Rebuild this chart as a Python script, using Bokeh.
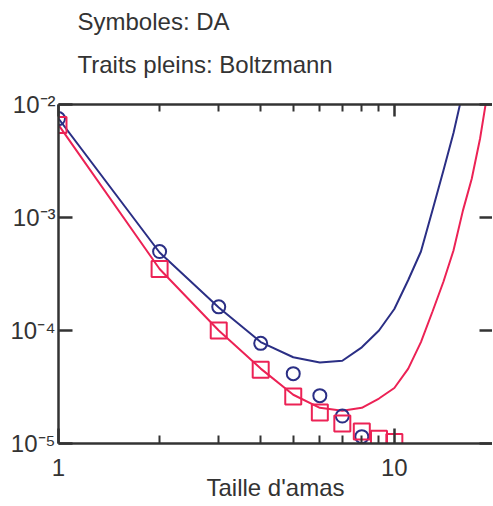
from bokeh.plotting import figure
from bokeh.models import LogAxis, FixedTicker, Range1d, Title
from bokeh.embed import file_html
from bokeh.resources import INLINE

# ---- data ----
x_da_circ = [1, 2, 3, 4, 5, 6, 7, 8]
y_da_circ = [7.5e-3, 5.0e-4, 1.62e-4, 7.7e-5, 4.15e-5, 2.65e-5, 1.75e-5, 1.15e-5]

x_da_sq = [1, 2, 3, 4, 5, 6, 7, 8, 9, 10]
y_da_sq = [6.6e-3, 3.5e-4, 1.0e-4, 4.5e-5, 2.6e-5, 1.88e-5, 1.5e-5, 1.28e-5, 1.1e-5, 1.03e-5]

x_blue = [1, 2, 3, 4, 5, 6, 7, 8, 9, 10, 11, 12, 13, 14, 15, 16]
y_blue = [7.5e-3, 4.9e-4, 1.6e-4, 7.9e-5, 5.8e-5, 5.2e-5, 5.4e-5, 7.1e-5, 1.0e-4,
          1.55e-4, 2.8e-4, 5.0e-4, 1.17e-3, 2.6e-3, 5.6e-3, 1.3e-2]

x_red = [1, 2, 3, 4, 5, 6, 7, 8, 9, 10, 11, 12, 13, 14, 15, 16, 17, 18, 19]
y_red = [6.6e-3, 3.5e-4, 1.0e-4, 4.6e-5, 2.7e-5, 2.07e-5, 1.95e-5, 2.07e-5, 2.5e-5,
         3.1e-5, 4.6e-5, 7.9e-5, 1.48e-4, 2.7e-4, 5.1e-4, 1.15e-3, 2.2e-3, 5.0e-3, 1.35e-2]

y_ticks = [1e-5, 1e-4, 1e-3, 1e-2]
y_tick_labels = ["10\u207b\u2075", "10\u207b\u2074", "10\u207b\u00b3", "10\u207b\u00b2"]
x_major = [1, 10]
x_minor = [2, 3, 4, 5, 6, 7, 8, 9]

title_lines = ["Symboles: DA", "Traits pleins: Boltzmann"]
x_label = "Taille d'amas"

BLUE = "#2b2f85"
RED = "#ec2255"
INK = "#333333"
FONT = "Liberation Sans"

p = figure(x_axis_type="log", y_axis_type="log",
           x_range=Range1d(1, 19.6), y_range=Range1d(1e-5, 1e-2),
           frame_width=434, frame_height=339,
           min_border_left=58, min_border_top=104, min_border_right=0, min_border_bottom=0,
           output_backend="svg", toolbar_location=None)
p.grid.visible = False
p.outline_line_color = None
p.background_fill_color = "white"
p.border_fill_color = "white"

def style_axis(ax, major_in, minor_in, show_labels, line=True):
    ax.axis_line_color = INK if line else None
    ax.axis_line_width = 2.5
    ax.major_tick_line_color = INK
    ax.major_tick_line_width = 2.5
    ax.major_tick_in = major_in
    ax.major_tick_out = 0
    if minor_in:
        ax.minor_tick_line_color = INK
        ax.minor_tick_line_width = 2
        ax.minor_tick_in = minor_in
        ax.minor_tick_out = 0
    else:
        ax.minor_tick_line_color = None
    ax.major_label_text_font = FONT
    ax.major_label_text_color = INK
    ax.major_label_text_font_size = "24px" if show_labels else "0px"
    if not show_labels:
        ax.major_label_text_color = None
        ax.major_label_standoff = 0

# bottom axis
xb = p.xaxis[0]
xb.ticker = FixedTicker(ticks=x_major, minor_ticks=x_minor)
style_axis(xb, 15, 8, True)
xb.major_label_standoff = 15
xb.major_label_overrides = {1: "1", 10: "10"}
xb.axis_label = x_label
xb.axis_label_text_font = FONT
xb.axis_label_text_font_style = "normal"
xb.axis_label_text_font_size = "24px"
xb.axis_label_text_color = INK
xb.axis_label_standoff = -5

# left axis
yl = p.yaxis[0]
yl.ticker = FixedTicker(ticks=y_ticks, minor_ticks=[])
style_axis(yl, 14, 0, True)
yl.major_label_standoff = 3
yl.major_label_overrides = dict(zip(y_ticks, y_tick_labels))

# top axis (no labels)
xa = LogAxis(ticker=FixedTicker(ticks=x_major, minor_ticks=x_minor))
style_axis(xa, 12, 7, False)
p.add_layout(xa, "above")

# right axis (its spine lies beyond the visible area in the reference)
yr = LogAxis(ticker=FixedTicker(ticks=y_ticks, minor_ticks=[]))
style_axis(yr, 13, 0, False, line=False)
p.add_layout(yr, "right")

# header: inner line first, outer line last
for line_text, gap in [(title_lines[1], 53), (title_lines[0], -24)]:
    p.add_layout(Title(text=line_text, align="left", offset=19, standoff=gap,
                       text_font=FONT, text_font_size="24px", text_font_style="normal",
                       text_color=INK), "above")

# curves
p.line(x_blue, y_blue, line_color=BLUE, line_width=2)
p.line(x_red, y_red, line_color=RED, line_width=2)

# markers
p.scatter(x_da_circ, y_da_circ, marker="circle", size=13, fill_color=None,
          line_color=BLUE, line_width=2)
p.scatter(x_da_sq, y_da_sq, marker="square", size=16, fill_color=None,
          line_color=RED, line_width=2)

open("out.html", "w").write(file_html(p, INLINE))
